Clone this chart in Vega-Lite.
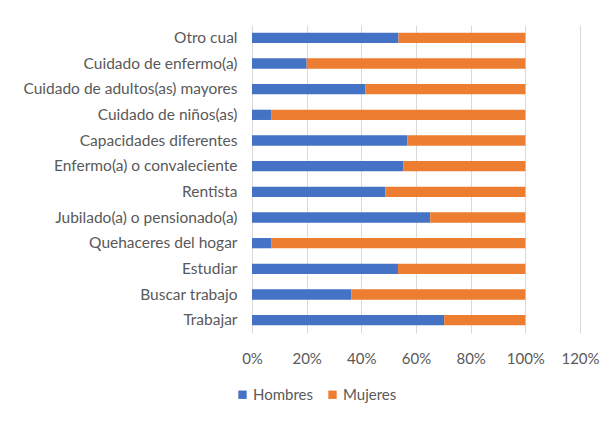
{
  "$schema": "https://vega.github.io/schema/vega-lite/v6.json",
  "width": 328,
  "height": 308,
  "autosize": {"type": "none"},
  "padding": {"left": 252, "top": 25, "right": 36, "bottom": 88},
  "background": "white",
  "config": {
    "view": {"stroke": null},
    "font": "Lato"
  },
  "data": {
    "values": [
      {"categoria": "Otro cual", "sexo": "Hombres", "valor": 0.536},
      {"categoria": "Otro cual", "sexo": "Mujeres", "valor": 0.464},
      {"categoria": "Cuidado de enfermo(a)", "sexo": "Hombres", "valor": 0.200},
      {"categoria": "Cuidado de enfermo(a)", "sexo": "Mujeres", "valor": 0.800},
      {"categoria": "Cuidado de adultos(as) mayores", "sexo": "Hombres", "valor": 0.414},
      {"categoria": "Cuidado de adultos(as) mayores", "sexo": "Mujeres", "valor": 0.586},
      {"categoria": "Cuidado de niños(as)", "sexo": "Hombres", "valor": 0.070},
      {"categoria": "Cuidado de niños(as)", "sexo": "Mujeres", "valor": 0.930},
      {"categoria": "Capacidades diferentes", "sexo": "Hombres", "valor": 0.568},
      {"categoria": "Capacidades diferentes", "sexo": "Mujeres", "valor": 0.432},
      {"categoria": "Enfermo(a) o convaleciente", "sexo": "Hombres", "valor": 0.553},
      {"categoria": "Enfermo(a) o convaleciente", "sexo": "Mujeres", "valor": 0.447},
      {"categoria": "Rentista", "sexo": "Hombres", "valor": 0.488},
      {"categoria": "Rentista", "sexo": "Mujeres", "valor": 0.512},
      {"categoria": "Jubilado(a) o pensionado(a)", "sexo": "Hombres", "valor": 0.652},
      {"categoria": "Jubilado(a) o pensionado(a)", "sexo": "Mujeres", "valor": 0.348},
      {"categoria": "Quehaceres del hogar", "sexo": "Hombres", "valor": 0.070},
      {"categoria": "Quehaceres del hogar", "sexo": "Mujeres", "valor": 0.930},
      {"categoria": "Estudiar", "sexo": "Hombres", "valor": 0.534},
      {"categoria": "Estudiar", "sexo": "Mujeres", "valor": 0.466},
      {"categoria": "Buscar trabajo", "sexo": "Hombres", "valor": 0.363},
      {"categoria": "Buscar trabajo", "sexo": "Mujeres", "valor": 0.637},
      {"categoria": "Trabajar", "sexo": "Hombres", "valor": 0.703},
      {"categoria": "Trabajar", "sexo": "Mujeres", "valor": 0.297}
    ]
  },
  "mark": {"type": "bar"},
  "encoding": {
    "y": {
      "field": "categoria",
      "type": "nominal",
      "sort": null,
      "scale": {"paddingInner": 0.6, "paddingOuter": 0.3},
      "axis": {
        "title": null,
        "domain": false,
        "ticks": false,
        "labelPadding": 15,
        "labelFontSize": 15.5,
        "labelColor": "#595959",
        "labelFont": "Lato",
        "labelLimit": 300
      }
    },
    "x": {
      "field": "valor",
      "type": "quantitative",
      "stack": "zero",
      "scale": {"domain": [0, 1.2], "nice": false},
      "axis": {
        "title": null,
        "format": ".0%",
        "values": [0, 0.2, 0.4, 0.6, 0.8, 1.0, 1.2],
        "domain": false,
        "ticks": false,
        "grid": true,
        "gridColor": "#d9d9d9",
        "gridWidth": 1,
        "labelPadding": 18,
        "labelFontSize": 15,
        "labelColor": "#595959",
        "labelFont": "Lato",
        "labelFlush": false
      }
    },
    "color": {
      "field": "sexo",
      "type": "nominal",
      "scale": {"domain": ["Hombres", "Mujeres"], "range": ["#4472C4", "#ED7D31"]},
      "legend": {
        "title": null,
        "orient": "none",
        "direction": "horizontal",
        "legendX": -17,
        "legendY": 362,
        "symbolType": "square",
        "symbolSize": 70,
        "symbolStrokeWidth": 0,
        "labelFontSize": 15,
        "labelColor": "#595959",
        "labelFont": "Lato",
        "columnPadding": 11,
        "labelOffset": 3
      }
    }
  }
}
